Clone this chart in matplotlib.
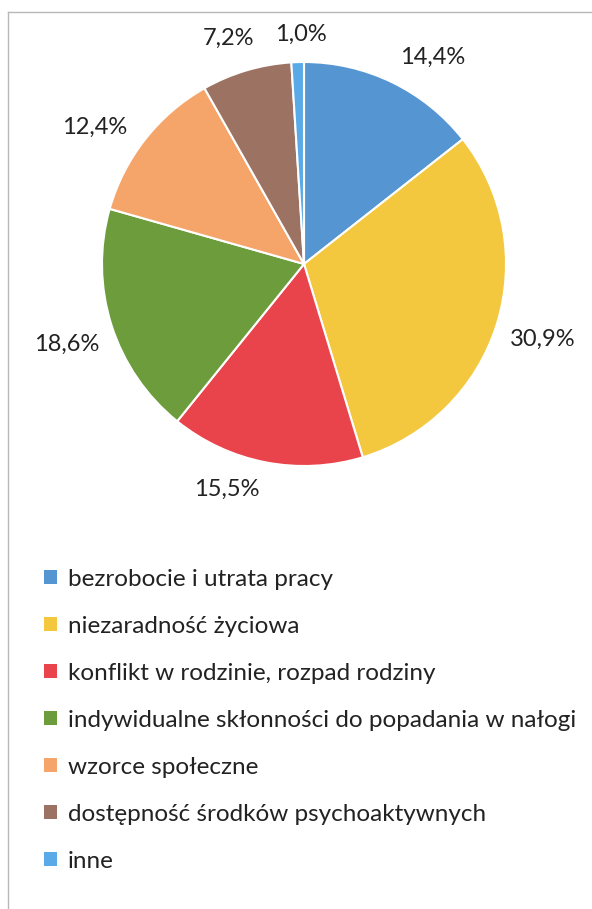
import numpy as np
import matplotlib

matplotlib.use("Agg")
import matplotlib.pyplot as plt  # noqa: E402
from matplotlib.lines import Line2D  # noqa: E402
from matplotlib.patches import Patch  # noqa: E402

# Dane z wykresu (udziały w %)
kategorie = [
    "bezrobocie i utrata pracy",
    "niezaradność życiowa",
    "konflikt w rodzinie, rozpad rodziny",
    "indywidualne skłonności do popadania w nałogi",
    "wzorce społeczne",
    "dostępność środków psychoaktywnych",
    "inne",
]
udzialy = [14.4, 30.9, 15.5, 18.6, 12.4, 7.2, 1.0]
kolory = ["#5596d2", "#f3c73e", "#e9444b", "#6c9c3c", "#f5a56a", "#9c7262", "#5aaae8"]

# drobne przesunięcia kątowe etykiet (stopnie), jak ręcznie ułożone w oryginale
przesun_etykiet = [-6, 0, -8, 1, 5, 2, -1]

plt.rcParams["font.family"] = ["Lato", "DejaVu Sans"]
TXT = "#222222"

fig = plt.figure(figsize=(5.92, 9.09), dpi=100)
W, H = 592, 909

# obszar koła: środek ok. (304, 264) px, promień ok. 202 px
R = 202
cx, cy = 304, 264
ax = fig.add_axes([(cx - R) / W, (H - cy - R) / H, 2 * R / W, 2 * R / H])

wedges, _ = ax.pie(
    udzialy, colors=kolory, startangle=90, counterclock=False, radius=1,
    wedgeprops=dict(edgecolor="white", linewidth=1.5),
)
ax.set_xlim(-1, 1)
ax.set_ylim(-1, 1)
ax.set_aspect("equal")
ax.axis("off")

# etykiety procentowe na zewnątrz (jak w Excelu)
for w, v, d in zip(wedges, udzialy, przesun_etykiet):
    kat = np.deg2rad((w.theta1 + w.theta2) / 2 + d)
    c, s = np.cos(kat), np.sin(kat)
    hw, hh = 31 / R, 12 / R
    r = 1.0 + 15 / R + abs(c) * hw + abs(s) * hh
    ax.text(r * c, r * s, f"{v:.1f}%".replace(".", ","), ha="center", va="center",
            fontsize=17, color=TXT)

# legenda pod wykresem
uchwyty = [Patch(facecolor=k, edgecolor="none") for k in kolory]
leg = fig.legend(
    uchwyty, kategorie, loc="upper left", bbox_to_anchor=(34 / W, 1 - 559 / H),
    frameon=False, fontsize=17.5, handlelength=0.55, handleheight=0.55,
    handletextpad=0.45, labelspacing=1.07, borderaxespad=0,
)
for t in leg.get_texts():
    t.set_color(TXT)

# ramka skanu (lewa i górna krawędź)
fig.add_artist(Line2D([8 / W, 1], [1 - 12 / H, 1 - 12 / H], color="#b8b8b8", lw=1))
fig.add_artist(Line2D([8 / W, 8 / W], [0, 1 - 12 / H], color="#b8b8b8", lw=1))

fig.savefig("out.png", dpi=100)
